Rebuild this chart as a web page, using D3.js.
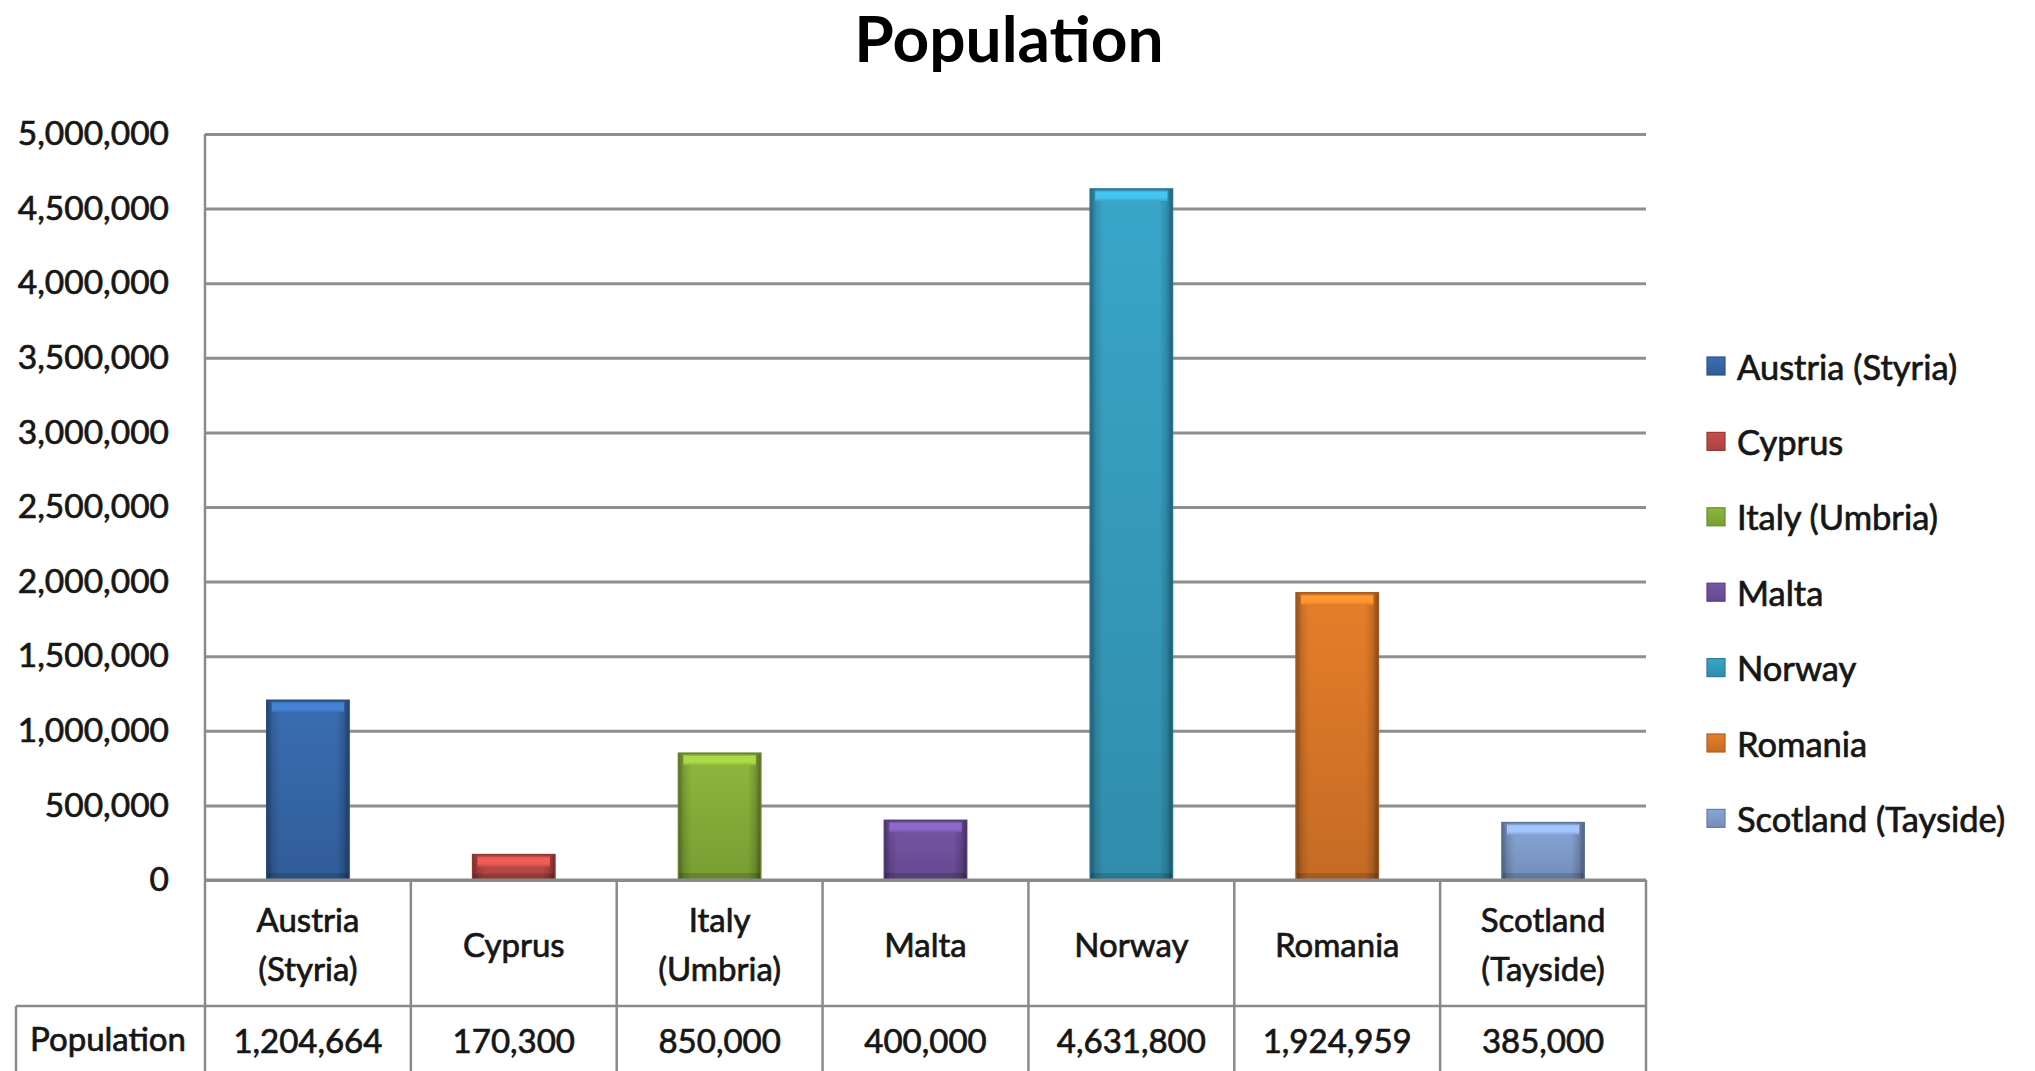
<!DOCTYPE html>
<html><head><meta charset="utf-8">
<script src="https://cdn.jsdelivr.net/npm/d3@7"></script>
<style>
body{margin:0;background:#fff}
svg{display:block}
text{font-family:Lato,"Open Sans",sans-serif;fill:#161616}
.lbl{stroke:#161616;stroke-width:0.7px}
</style>
</head><body>
<script>
// ---- data ----
const categories = ["Austria (Styria)","Cyprus","Italy (Umbria)","Malta","Norway","Romania","Scotland (Tayside)"];
const categoryLabelLines = [["Austria","(Styria)"],["Cyprus"],["Italy","(Umbria)"],["Malta"],["Norway"],["Romania"],["Scotland","(Tayside)"]];
const population = [1204664,170300,850000,400000,4631800,1924959,385000];
const yTickValues = [0,500000,1000000,1500000,2000000,2500000,3000000,3500000,4000000,4500000,5000000];
const seriesName = "Population";
const chartTitle = "Population";
const baseColors = ["#3a6db3","#c84e4a","#8db83c","#7656a8","#39a6c9","#e67e2a","#88a6d8"];

(function(){
// ---- layout ----
const W = 2035, H = 1071;
const pLeft = 205, pRight = 1646, pTop = 134, zeroY = 880, rowLine = 1006, tableLeft = 16;

const svg = d3.select("body").append("svg").attr("width", W).attr("height", H);
svg.append("rect").attr("width", W).attr("height", H).attr("fill", "#fff");
const defs = svg.append("defs");

const x = d3.scaleBand().domain(categories).range([pLeft, pRight]).paddingInner(0.6).paddingOuter(0.3);
const col = d3.scaleBand().domain(categories).range([pLeft, pRight]).padding(0);
const y = d3.scaleLinear().domain([0, 5000000]).range([zeroY, pTop]);
const fmt = d3.format(",");

// gradients
const edge = defs.append("linearGradient").attr("id", "edge").attr("x1", 0).attr("x2", 1).attr("y1", 0).attr("y2", 0);
[[0,0.38],[0.07,0.12],[0.16,0],[0.5,0],[0.84,0],[0.93,0.15],[1,0.42]].forEach(([o,a]) =>
  edge.append("stop").attr("offset", o).attr("stop-color", "#000").attr("stop-opacity", a));
baseColors.forEach((c, i) => {
  const base = d3.color(c);
  const dark = base.darker(0.45), light = base.brighter(0.5);
  const g = defs.append("linearGradient").attr("id", "vg" + i).attr("x1", 0).attr("x2", 0).attr("y1", 0).attr("y2", 1);
  [[0, base],[1, dark]].forEach(([o, cc]) =>
    g.append("stop").attr("offset", o).attr("stop-color", cc.formatHex()));
  const t = defs.append("linearGradient").attr("id", "tg" + i).attr("x1", 0).attr("x2", 0).attr("y1", 0).attr("y2", 1);
  [[0, base.darker(0.6)],[0.2, light],[0.7, light],[1, base]].forEach(([o, cc]) =>
    t.append("stop").attr("offset", o).attr("stop-color", cc.formatHex()));
});

// title
svg.append("text").attr("x", 1009).attr("y", 62).attr("text-anchor", "middle")
  .style("font-size", "64px").style("font-weight", "bold").style("fill", "#000").text(chartTitle);

// gridlines
const grid = svg.append("g").attr("transform", `translate(${pLeft},0)`)
  .call(d3.axisLeft(y).tickValues(yTickValues).tickSize(-(pRight - pLeft)).tickFormat(""));
grid.select(".domain").remove();
grid.selectAll("line").attr("stroke", "#8e8e8e").attr("stroke-width", 3);

// y labels
const yax = svg.append("g").attr("transform", `translate(${pLeft},0)`)
  .call(d3.axisLeft(y).tickValues(yTickValues).tickFormat(fmt).tickSize(0).tickPadding(36));
yax.select(".domain").remove();
yax.selectAll("text").attr("class", "lbl").style("font-size", "33.5px").style("font-family", "Lato").attr("fill", "#161616");

// bars
const data = categories.map((c, i) => ({c, v: population[i], i}));
const bars = svg.append("g").selectAll("g").data(data).join("g");
bars.append("rect").attr("x", d => x(d.c)).attr("width", x.bandwidth())
  .attr("y", d => y(d.v)).attr("height", d => y(0) - y(d.v))
  .attr("fill", d => `url(#vg${d.i})`);
bars.append("rect").attr("x", d => x(d.c)).attr("width", x.bandwidth())
  .attr("y", d => y(d.v)).attr("height", d => y(0) - y(d.v))
  .attr("fill", "url(#edge)");
bars.append("rect").attr("x", d => x(d.c) + 5).attr("width", x.bandwidth() - 10)
  .attr("y", d => y(d.v) + 1).attr("height", d => Math.min(11, (y(0) - y(d.v)) / 2))
  .attr("fill", d => `url(#tg${d.i})`);
bars.append("rect").attr("x", d => x(d.c)).attr("width", x.bandwidth())
  .attr("y", d => y(0) - Math.min(7, (y(0) - y(d.v)) / 4)).attr("height", d => Math.min(7, (y(0) - y(d.v)) / 4))
  .attr("fill", "#000").attr("opacity", 0.15);
bars.append("rect").attr("x", d => x(d.c)).attr("width", x.bandwidth())
  .attr("y", d => y(d.v)).attr("height", d => y(0) - y(d.v))
  .attr("fill", "none").attr("stroke", d => d3.color(baseColors[d.i]).darker(1)).attr("stroke-width", 1.5);

// table lines
const lines = svg.append("g").attr("stroke", "#8a8a8a").attr("stroke-width", 2.5);
lines.append("line").attr("x1", pLeft).attr("x2", pLeft).attr("y1", pTop).attr("y2", H);
lines.append("line").attr("x1", pRight).attr("x2", pRight).attr("y1", zeroY).attr("y2", H);
lines.append("line").attr("x1", pLeft).attr("x2", pRight).attr("y1", zeroY).attr("y2", zeroY).attr("stroke-width", 3);
lines.append("line").attr("x1", tableLeft).attr("x2", pRight).attr("y1", rowLine).attr("y2", rowLine);
lines.append("line").attr("x1", tableLeft).attr("x2", tableLeft).attr("y1", rowLine).attr("y2", H);
lines.selectAll(null).data(categories.slice(1)).join("line")
  .attr("x1", d => col(d)).attr("x2", d => col(d)).attr("y1", zeroY).attr("y2", H);

// category labels
const cl = svg.append("g").selectAll("text").data(data).join("text")
  .attr("class", "lbl").attr("text-anchor", "middle").style("font-size", "33px")
  .attr("x", d => col(d.c) + col.bandwidth() / 2);
cl.each(function(d) {
  const ls = categoryLabelLines[d.i];
  const t = d3.select(this);
  const y0 = ls.length === 1 ? 944 : 919;
  ls.forEach((ln, k) => t.append("tspan").attr("x", col(d.c) + col.bandwidth() / 2)
    .attr("y", y0 + k * 49).attr("dominant-baseline", "central").text(ln));
});

// population row
svg.append("text").attr("class", "lbl").attr("x", 108).attr("y", 1038).attr("text-anchor", "middle")
  .attr("dominant-baseline", "central").style("font-size", "33px").text(seriesName);
svg.append("g").selectAll("text").data(data).join("text")
  .attr("class", "lbl")
  .attr("x", d => col(d.c) + col.bandwidth() / 2).attr("y", 1040)
  .attr("text-anchor", "middle").attr("dominant-baseline", "central")
  .style("font-size", "33px").text(d => fmt(d.v));

// legend
const leg = svg.append("g").selectAll("g").data(data).join("g")
  .attr("transform", d => `translate(1707,${366 + d.i * 75.4})`);
leg.append("rect").attr("x", 0).attr("y", -9).attr("width", 18).attr("height", 18)
  .attr("fill", d => `url(#vg${d.i})`).attr("stroke", d => d3.color(baseColors[d.i]).darker(0.8)).attr("stroke-width", 1.2);
leg.append("text").attr("class", "lbl").attr("x", 30).attr("y", 0).attr("dominant-baseline", "central")
  .style("font-size", "34.5px").text(d => d.c);
})();
</script>
</body></html>
